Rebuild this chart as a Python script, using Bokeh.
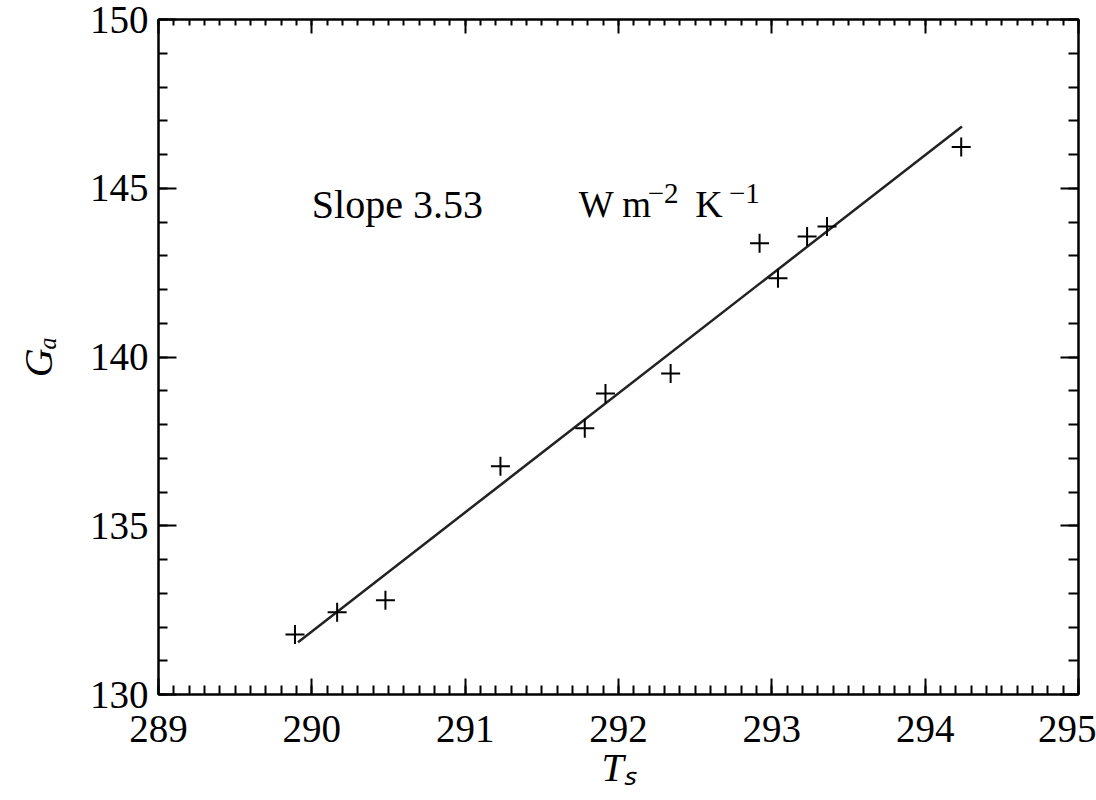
from bokeh.plotting import figure
from bokeh.models import Label, LinearAxis, Range1d, SingleIntervalTicker
from bokeh.embed import file_html
from bokeh.resources import INLINE

# ---- data ----
ts = [289.89, 290.165, 290.48, 291.23, 291.78, 291.915, 292.34, 292.92, 293.04, 293.23, 293.36, 294.235]
ga = [131.78, 132.44, 132.79, 136.76, 137.89, 138.92, 139.51, 143.37, 142.33, 143.57, 143.87, 146.22]
fit_x = [289.91, 294.24]
fit_y = [131.55, 146.83]
x_range = (289, 295)
y_range = (130, 150)
slope_text = "Slope 3.53"
x_label = "T\u209b"
y_label = "G\u2090"

FONT = "Liberation Serif"

p = figure(width=1096, height=800, output_backend="svg", toolbar_location=None,
           x_range=Range1d(*x_range), y_range=Range1d(*y_range),
           min_border_left=158, min_border_right=18, min_border_top=19, min_border_bottom=106)
p.background_fill_color = "white"
p.border_fill_color = "white"
p.outline_line_color = "black"
p.outline_line_width = 2
p.xgrid.visible = False
p.ygrid.visible = False

xt = SingleIntervalTicker(interval=1, num_minor_ticks=10)
yt = SingleIntervalTicker(interval=5, num_minor_ticks=5)

for ax in p.xaxis:
    ax.ticker = xt
    ax.major_tick_in = 16
    ax.major_tick_out = 0
    ax.minor_tick_in = 9
    ax.minor_tick_out = 0
    ax.axis_line_width = 2
    ax.major_tick_line_width = 2
    ax.minor_tick_line_width = 2
    ax.major_label_text_font = FONT
    ax.major_label_text_font_size = "39px"
    ax.major_label_text_color = "black"
    ax.major_label_standoff = 21
    ax.axis_label = x_label
    ax.axis_label_text_font = FONT
    ax.axis_label_text_font_style = "italic"
    ax.axis_label_text_font_size = "40px"
    ax.axis_label_text_color = "black"
    ax.axis_label_standoff = 0
for ax in p.yaxis:
    ax.ticker = yt
    ax.major_tick_in = 18
    ax.major_tick_out = 0
    ax.minor_tick_in = 9
    ax.minor_tick_out = 0
    ax.axis_line_width = 2
    ax.major_tick_line_width = 2
    ax.minor_tick_line_width = 2
    ax.major_label_text_font = FONT
    ax.major_label_text_font_size = "39px"
    ax.major_label_text_color = "black"
    ax.major_label_standoff = 10
    ax.axis_label = y_label
    ax.axis_label_text_font = FONT
    ax.axis_label_text_font_style = "italic"
    ax.axis_label_text_font_size = "40px"
    ax.axis_label_text_color = "black"
    ax.axis_label_standoff = 26

top = LinearAxis(ticker=SingleIntervalTicker(interval=1, num_minor_ticks=10),
                 major_tick_in=14, major_tick_out=0, minor_tick_in=6, minor_tick_out=0,
                 axis_line_width=2, major_tick_line_width=2, minor_tick_line_width=2,
                 major_label_text_font_size="1px", major_label_text_color=None,
                 major_label_standoff=0)
right = LinearAxis(ticker=SingleIntervalTicker(interval=5, num_minor_ticks=5),
                   major_tick_in=18, major_tick_out=0, minor_tick_in=10, minor_tick_out=0,
                   axis_line_width=2, major_tick_line_width=2, minor_tick_line_width=2,
                   major_label_text_font_size="1px", major_label_text_color=None,
                   major_label_standoff=0)
p.add_layout(top, "above")
p.add_layout(right, "right")

p.line(fit_x, fit_y, line_color="#222222", line_width=2.5)
p.scatter(ts, ga, marker="cross", size=19, line_color="black", line_width=2)

# in-plot annotation
base_y = 144.52
sup_y = 144.84
p.add_layout(Label(x=290.0, y=base_y, text=slope_text, text_font=FONT,
                   text_font_size="40px", text_color="black", text_baseline="alphabetic"))
p.add_layout(Label(x=291.74, y=base_y, text="W m", text_font=FONT,
                   text_font_size="37px", text_color="black", text_baseline="alphabetic"))
p.add_layout(Label(x=292.19, y=sup_y, text="\u22122", text_font=FONT,
                   text_font_size="29px", text_color="black", text_baseline="alphabetic"))
p.add_layout(Label(x=292.50, y=base_y, text="K", text_font=FONT,
                   text_font_size="38px", text_color="black", text_baseline="alphabetic"))
p.add_layout(Label(x=292.72, y=sup_y, text="\u22121", text_font=FONT,
                   text_font_size="29px", text_color="black", text_baseline="alphabetic"))

open("out.html", "w").write(file_html(p, INLINE))
